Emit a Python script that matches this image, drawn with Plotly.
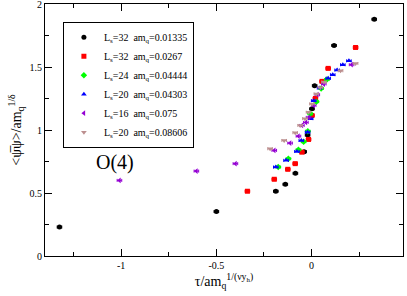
import plotly.graph_objects as go

# ---- data ----
labels = [
    "L<sub>s</sub>=32  am<sub>q</sub>=0.01335",
    "L<sub>s</sub>=32  am<sub>q</sub>=0.0267",
    "L<sub>s</sub>=24  am<sub>q</sub>=0.04444",
    "L<sub>s</sub>=20  am<sub>q</sub>=0.04303",
    "L<sub>s</sub>=16  am<sub>q</sub>=0.075",
    "L<sub>s</sub>=20  am<sub>q</sub>=0.08606",
]

x_32a = [-1.324, -0.50, -0.188, -0.138, -0.085, -0.039, -0.021, 0.002, 0.016, 0.118, 0.329]
y_32a = [0.23, 0.353, 0.514, 0.569, 0.656, 0.828, 0.96, 1.168, 1.352, 1.671, 1.879]

x_32b = [-0.337, -0.196, -0.125, -0.086, -0.051, -0.016, 0.002, 0.02, 0.055, 0.087, 0.231]
y_32b = [0.514, 0.609, 0.688, 0.733, 0.824, 0.925, 1.115, 1.25, 1.386, 1.489, 1.655]

x_24 = [-0.175, -0.122, -0.069, -0.042, -0.02, -0.007, 0.025, 0.05, 0.08]
y_24 = [0.706, 0.772, 0.843, 0.907, 0.99, 1.128, 1.225, 1.33, 1.40]

x_20a = [-0.188, -0.134, -0.077, -0.054, -0.021, -0.005, 0.011, 0.042, 0.087, 0.111, 0.134, 0.164, 0.196]
y_20a = [0.706, 0.759, 0.83, 0.917, 0.983, 1.09, 1.233, 1.334, 1.41, 1.439, 1.476, 1.518, 1.549]

x_16 = [-1.009, -0.605, -0.40, -0.196, -0.113, -0.069, -0.051, -0.03, -0.016, 0.011, 0.03, 0.064, 0.21]
y_16 = [0.60, 0.674, 0.733, 0.838, 0.896, 0.951, 1.036, 1.06, 1.10, 1.194, 1.28, 1.365, 1.518]

x_20b = [-0.218, -0.144, -0.086, -0.06, -0.035, -0.016, 0.002, 0.025, 0.046, 0.065, 0.152, 0.231]
y_20b = [0.851, 0.917, 0.978, 1.036, 1.09, 1.141, 1.207, 1.286, 1.338, 1.38, 1.47, 1.528]

x_err = 0.012

xtick_vals = [-1, -0.5, 0]
xtick_text = ["-1", "-0.5", "0"]
ytick_vals = [0, 0.5, 1, 1.5, 2]
ytick_text = ["0", "0.5", "1", "1.5", "2"]

series = [
    (x_32a, y_32a, "circle", "#000000"),
    (x_32b, y_32b, "square", "#ff0000"),
    (x_24, y_24, "diamond", "#00ff00"),
    (x_20a, y_20a, "triangle-up", "#0000ff"),
    (x_16, y_16, "triangle-left", "#9400d3"),
    (x_20b, y_20b, "triangle-down", "#bc8f8f"),
]

SERIF = "Liberation Serif"

fig = go.Figure()
for (xs, ys, sym, col), lab in zip(series, labels):
    fig.add_trace(go.Scatter(
        x=xs, y=ys, mode="markers", name=lab,
        marker=dict(symbol=sym, color=col, size=5, line=dict(width=0)),
        error_x=dict(type="constant", value=x_err, color=col, thickness=1, width=1.5),
    ))

fig.add_annotation(x=-1.03, y=0.745, xref="x", yref="y", text="O(4)",
                   showarrow=False, font=dict(family=SERIF, size=20, color="black"))

axis_common = dict(
    showgrid=False, zeroline=False, showline=True, linecolor="black", linewidth=1,
    mirror="allticks", ticks="inside", ticklen=7, tickcolor="black", tickwidth=1,
    tickfont=dict(family=SERIF, size=10, color="black"),
    automargin=False, ticklabeloverflow="allow",
)

fig.update_xaxes(
    range=[-1.4, 0.48], tickvals=xtick_vals, ticktext=xtick_text,
    minor=dict(dtick=0.25, ticks="inside", ticklen=4, tickcolor="black"),
    title=dict(text="τ/am<sub>q</sub><sup>1/(νy<sub>h</sub>)</sup>",
               font=dict(family=SERIF, size=14, color="black"), standoff=2),
    **axis_common,
)
fig.update_yaxes(
    range=[0, 2], tickvals=ytick_vals, ticktext=ytick_text,
    minor=dict(dtick=0.25, ticks="inside", ticklen=4, tickcolor="black"),
    title=dict(text="<ψ̅ψ>/am<sub>q</sub><sup>1/δ</sup>",
               font=dict(family=SERIF, size=14, color="black"), standoff=4),
    **axis_common,
)

fig.update_layout(
    width=407, height=296,
    margin=dict(l=45, r=4, t=4, b=40),
    paper_bgcolor="white", plot_bgcolor="white",
    showlegend=True,
    legend=dict(x=0.05, y=0.93, xanchor="left", yanchor="top",
                bordercolor="black", borderwidth=1, bgcolor="white",
                font=dict(family=SERIF, size=10, color="black"),
                itemwidth=30, tracegroupgap=0),
)

fig.write_html("out.html",
               config={"displayModeBar": False},
               post_script="document.body.style.margin='0';document.body.style.overflow='hidden';")
